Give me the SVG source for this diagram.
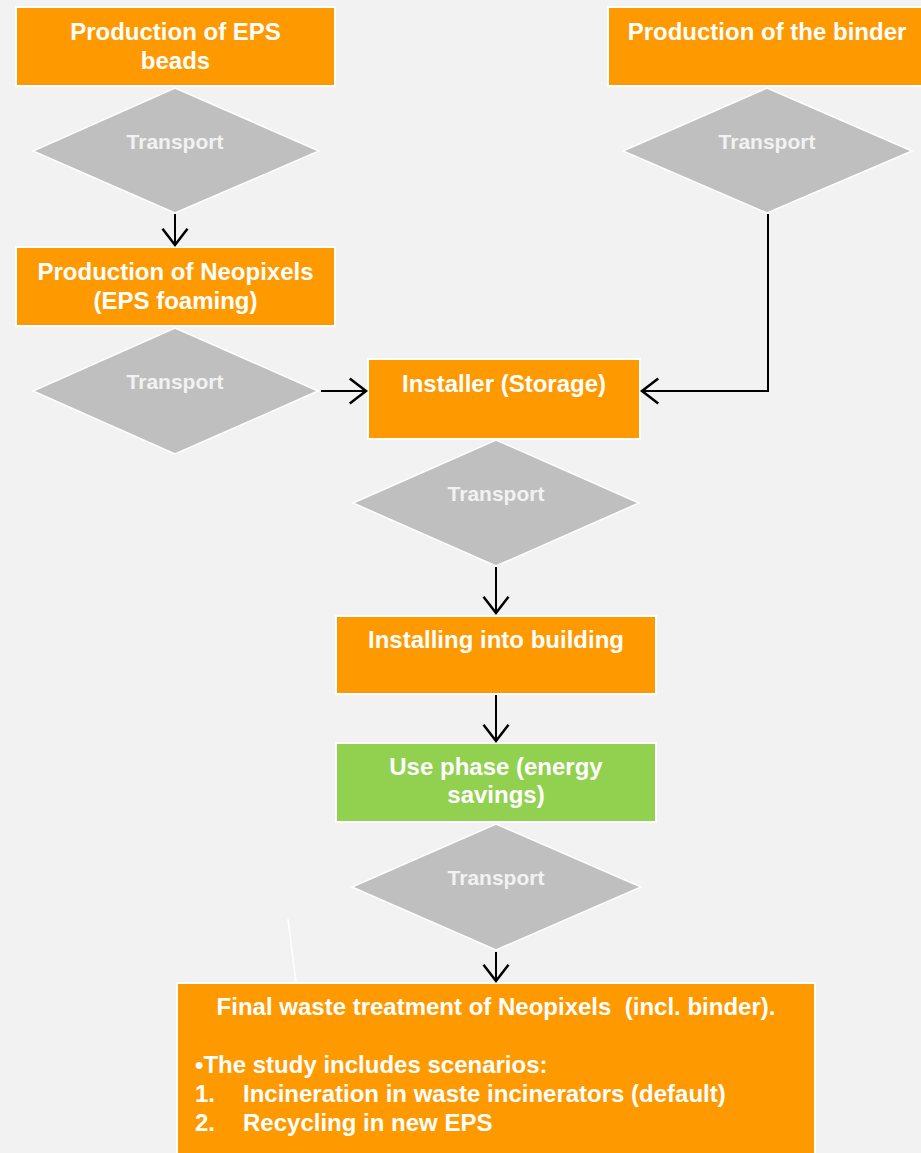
<svg xmlns="http://www.w3.org/2000/svg" width="921" height="1153" viewBox="0 0 921 1153">
<style>
.box{fill:#ff9900;stroke:#ffffff;stroke-width:2}
.green{fill:#92d050;stroke:#ffffff;stroke-width:2}
.dia{fill:#bfbfbf;stroke:#ffffff;stroke-width:1.5}
.t{font-family:"Liberation Sans",Arial,sans-serif;font-weight:bold;font-size:24px;fill:#ffffff;text-anchor:middle}
.tr{font-family:"Liberation Sans",Arial,sans-serif;font-weight:bold;font-size:21px;fill:#f2f2f2;text-anchor:middle}
.tl{font-family:"Liberation Sans",Arial,sans-serif;font-weight:bold;font-size:24px;fill:#ffffff}
.c{fill:none;stroke:#000000;stroke-width:2}
</style>
<defs>
<marker id="ah" markerUnits="userSpaceOnUse" markerWidth="30" markerHeight="30" viewBox="-15 -12 17 24" refX="0" refY="0" orient="auto">
<path d="M-13,-10 L0,0 L-13,10" fill="none" stroke="#000" stroke-width="2"/>
</marker>
</defs>
<rect x="0" y="0" width="921" height="1153" fill="#f2f2f2"/>
<line x1="288" y1="919" x2="296" y2="982" stroke="#ffffff" stroke-width="1.5"/>
<g id="n-eps-beads"><rect class="box" x="16" y="7" width="319" height="79"/><text class="t" x="175.5" y="40">Production of EPS</text><text class="t" x="175.5" y="69">beads</text></g>
<g id="n-binder"><rect class="box" x="608" y="7" width="320" height="79"/><text class="t" x="767" y="40">Production of the binder</text></g>
<g id="d1"><polygon class="dia" points="175,88 319,151 175,213 33,151"/><text class="tr" x="175" y="149">Transport</text></g>
<g id="d2"><polygon class="dia" points="767,88 912,151 767,213 623,151"/><text class="tr" x="767" y="149">Transport</text></g>
<g id="n-neopixels"><rect class="box" x="16" y="247" width="319" height="79"/><text class="t" x="175.5" y="280">Production of Neopixels</text><text class="t" x="175.5" y="309">(EPS foaming)</text></g>
<g id="d3"><polygon class="dia" points="175,328 318,391 175,454 33,391"/><text class="tr" x="175" y="389">Transport</text></g>
<g id="n-installer"><rect class="box" x="368" y="359" width="272" height="80"/><text class="t" x="504" y="392">Installer (Storage)</text></g>
<g id="d4"><polygon class="dia" points="496,440 639,503 496,566 353,503"/><text class="tr" x="496" y="501">Transport</text></g>
<g id="n-installing"><rect class="box" x="336" y="616" width="320" height="78"/><text class="t" x="496" y="648">Installing into building</text></g>
<g id="n-use"><rect class="green" x="336" y="743" width="320" height="79"/><text class="t" x="496" y="775">Use phase (energy</text><text class="t" x="496" y="803">savings)</text></g>
<g id="d5"><polygon class="dia" points="496,824 641,887 496,950 352,887"/><text class="tr" x="496" y="885">Transport</text></g>
<g id="n-final"><rect class="box" x="177" y="983" width="638" height="180"/>
<text class="t" x="496" y="1015">Final waste treatment of Neopixels&#160; (incl. binder).</text>
<text class="tl" x="195" y="1073">•The study includes scenarios:</text>
<text class="tl" x="195" y="1102">1.</text><text class="tl" x="243" y="1102">Incineration in waste incinerators (default)</text>
<text class="tl" x="195" y="1131">2.</text><text class="tl" x="243" y="1131">Recycling in new EPS</text>
</g>
<g id="connectors">
<path class="c" d="M175,214 L175,245" marker-end="url(#ah)"/>
<path class="c" d="M321,391 L366,391" marker-end="url(#ah)"/>
<path class="c" d="M768,214 L768,391 L642,391" marker-end="url(#ah)"/>
<path class="c" d="M496,567 L496,613" marker-end="url(#ah)"/>
<path class="c" d="M496,695 L496,741" marker-end="url(#ah)"/>
<path class="c" d="M496,952 L496,981" marker-end="url(#ah)"/>
</g>
</svg>
